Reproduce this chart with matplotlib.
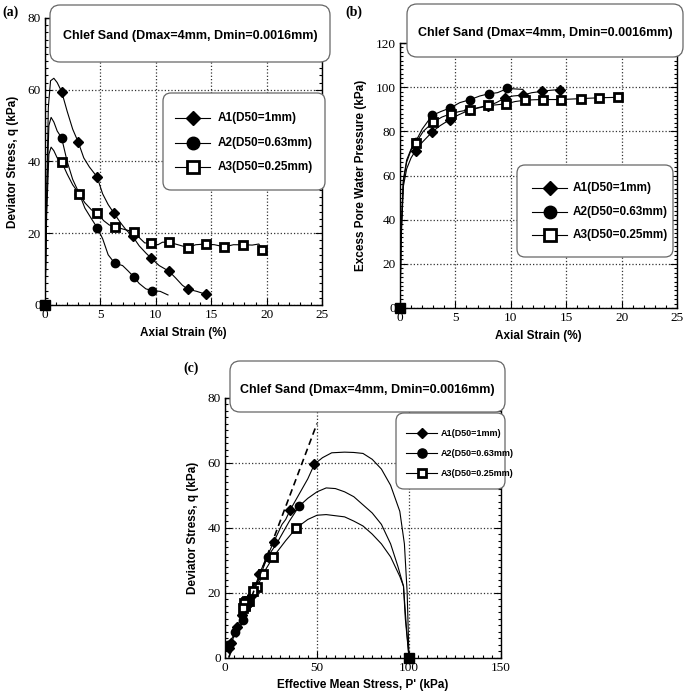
import matplotlib.pyplot as plt
from matplotlib.patches import FancyBboxPatch
from matplotlib.ticker import MultipleLocator
from matplotlib.lines import Line2D

# ---- data ----
labels = ["A1(D50=1mm)", "A2(D50=0.63mm)", "A3(D50=0.25mm)"]

# (a) deviator stress vs axial strain: curve points
a1_x = [0, 0.15, 0.3, 0.5, 0.8, 1.1, 1.5, 2.0, 2.5, 3.0, 3.5, 4.0, 4.7, 5.2, 5.7, 6.2, 6.8, 7.3, 7.9,
        8.5, 9.1, 9.6, 10.3, 11.2, 11.8, 12.4, 12.9, 13.7, 14.5]
a1_q = [0, 30, 55, 62.5, 63.2, 62, 59.5, 54, 49, 45.4, 41, 38.5, 35.7, 31, 28, 25.7, 23, 21, 19.2,
        16.5, 14.5, 13, 11, 9.4, 7.5, 5.5, 4.4, 3.8, 3.0]
a2_x = [0, 0.15, 0.35, 0.55, 0.8, 1.1, 1.5, 2.0, 2.5, 3.1, 3.6, 4.2, 4.7, 5.2, 5.7, 6.3, 7.0, 7.5,
        8.0, 8.5, 9.1, 9.7, 10.4, 11.1]
a2_q = [0, 30, 50, 52.3, 51, 48.5, 46.6, 40, 35, 31, 27, 24, 21.6, 18.5, 14, 11.6, 11, 9.5,
        7.9, 6.0, 4.5, 4.0, 3.8, 2.8]
a3_x = [0, 0.15, 0.35, 0.55, 0.8, 1.1, 1.5, 2.0, 2.5, 3.1, 3.6, 4.2, 4.7, 5.3, 5.8, 6.3, 7.0, 7.5,
        8.0, 8.6, 9.0, 9.6, 10.2, 10.6, 11.2, 12.0, 12.9, 13.6, 14.5, 15.3, 16.2, 17.0, 17.9, 18.7,
        19.3, 19.6]
a3_q = [0, 25, 42, 44, 43, 41, 39.9, 36.5, 33.5, 30.9, 28.5, 26.5, 25.7, 23.5, 22.3, 21.8, 21.2, 20.8,
        20.4, 18.5, 17.3, 17.3, 16.8, 17.5, 17.5, 16.8, 16.0, 16.8, 17.0, 16.8, 16.2, 16.8, 16.8, 16.7,
        17.0, 15.3]
# (a) marker points
a1_mx = [1.5, 3.0, 4.7, 6.2, 7.9, 9.6, 11.2, 12.9, 14.5]
a1_mq = [59.5, 45.4, 35.7, 25.7, 19.2, 13.0, 9.4, 4.4, 3.0]
a2_mx = [1.5, 3.1, 4.7, 6.3, 8.0, 9.7]
a2_mq = [46.6, 31.0, 21.6, 11.6, 7.9, 4.0]
a3_mx = [1.5, 3.1, 4.7, 6.3, 8.0, 9.6, 11.2, 12.9, 14.5, 16.2, 17.9, 19.6]
a3_mq = [39.9, 30.9, 25.7, 21.8, 20.4, 17.3, 17.5, 16.0, 17.0, 16.2, 16.8, 15.3]

# (b) excess pore water pressure vs axial strain
b1_x = [0, 0.1, 0.3, 0.6, 1.0, 1.4, 2.0, 2.9, 3.6, 4.5, 5.3, 6.2, 7.0, 7.9, 8.7, 9.5, 10.2, 11.1,
        11.9, 12.8, 13.6, 14.4]
b1_u = [0, 30, 55, 63, 68, 71.2, 75, 79.7, 82.5, 85.3, 87.5, 89.5, 90.5, 91.5, 93, 95.2, 96, 96.4,
        97.5, 98.1, 98.6, 98.9]
b2_x = [0, 0.1, 0.3, 0.6, 1.0, 1.4, 2.0, 2.9, 3.7, 4.5, 5.4, 6.3, 7.2, 8.0, 8.8, 9.7, 10.4, 11.1]
b2_u = [0, 35, 58, 67, 72, 75.2, 81, 87.2, 89, 90.5, 93, 94.3, 96, 97, 97.5, 99.4, 99.2, 99]
b3_x = [0, 0.1, 0.3, 0.6, 1.0, 1.4, 2.1, 3.0, 3.8, 4.6, 5.4, 6.3, 7.1, 7.9, 8.7, 9.6, 10.4, 11.3,
        12.1, 12.9, 13.7, 14.5, 15.4, 16.3, 17.1, 18.0, 18.8, 19.7]
b3_u = [0, 33, 57, 66, 71.5, 74.5, 80, 84.2, 86.5, 88, 89, 89.8, 90.8, 91.7, 92, 92.5, 93.5, 94.1,
        94.3, 94.4, 94.4, 94.4, 94.6, 94.8, 95, 95.2, 95.3, 95.4]
b1_mx = [1.4, 2.9, 4.5, 6.2, 7.9, 9.5, 11.1, 12.8, 14.4]
b1_mu = [71.2, 79.7, 85.3, 89.5, 91.5, 95.2, 96.4, 98.1, 98.9]
b2_mx = [1.4, 2.9, 4.5, 6.3, 8.0, 9.7]
b2_mu = [75.2, 87.2, 90.5, 94.3, 97.0, 99.4]
b3_mx = [1.4, 3.0, 4.6, 6.3, 7.9, 9.6, 11.3, 12.9, 14.5, 16.3, 18.0, 19.7]
b3_mu = [74.5, 84.2, 88.0, 89.8, 91.7, 92.5, 94.1, 94.4, 94.4, 94.8, 95.2, 95.4]

# (c) stress path q vs p'
c1_p = [100, 99, 97.5, 95, 90, 85, 80, 75, 70, 65, 58, 53, 48.6, 45, 40, 35.4, 33, 31, 26.6, 22,
        18.6, 14.9, 9.1, 6.7, 3.4, 2.1]
c1_q = [0, 20, 35, 45, 53, 58, 61, 62.8, 63.1, 63.2, 63, 61.5, 59.5, 55, 50, 45.4, 42.5, 41, 35.7, 30,
        25.7, 19.2, 13.0, 9.4, 4.4, 3.0]
c2_p = [100, 98, 97, 94, 90, 85, 80, 75, 70, 65, 60, 55, 50, 45, 40.3, 35, 28, 23.1, 16.7, 9.6, 5.6, 1.9]
c2_q = [0, 12, 22, 28, 35, 41, 44.5, 47, 49.5, 51, 52, 52.2, 51, 49, 46.6, 42, 35, 31, 21.6, 11.6, 7.9, 4.0]
c3_p = [100, 98.5, 97, 95, 90, 85, 80, 75, 70, 65, 55, 50, 45, 38.8, 33, 26.1, 20.6, 17.5, 15.1,
        13.3, 11.7, 10.9, 11.3, 10.6, 10.4, 9.7]
c3_q = [0, 10, 22, 25, 31, 35, 38, 40.5, 42, 43.3, 44, 43.8, 42.5, 39.9, 36, 30.9, 25.7, 21.8, 20.4,
        17.3, 17.5, 16.0, 17.0, 16.2, 16.8, 15.3]
c1_mp = [48.6, 35.4, 26.6, 18.6, 14.9, 9.1, 6.7, 3.4, 2.1]
c1_mq = [59.5, 45.4, 35.7, 25.7, 19.2, 13.0, 9.4, 4.4, 3.0]
c2_mp = [40.3, 23.1, 16.7, 9.6, 5.6, 1.9]
c2_mq = [46.6, 31.0, 21.6, 11.6, 7.9, 4.0]
c3_mp = [38.8, 26.1, 20.6, 17.5, 15.1, 13.3, 11.7, 10.9, 11.3, 10.6, 10.4, 9.7]
c3_mq = [39.9, 30.9, 25.7, 21.8, 20.4, 17.3, 17.5, 16.0, 17.0, 16.2, 16.8, 15.3]
cl_p = [2, 50]
cl_q = [0, 72]

title = "Chlef Sand (Dmax=4mm, Dmin=0.0016mm)"

W, H = 685, 695
fig = plt.figure(figsize=(W / 100, H / 100), dpi=100)
serif = "Liberation Serif"
sans = "Liberation Sans"


def px_axes(l, t, r, b):
    return fig.add_axes([l / W, 1 - b / H, (r - l) / W, (b - t) / H])


styles = [dict(marker="D", ms=4.6, mfc="black", mec="black"),
          dict(marker="o", ms=6, mfc="black", mec="black"),
          dict(marker="s", ms=5.8, mfc="white", mec="black", mew=2)]


def setup(ax, xmax, ymax, xmaj, ymaj, xmin, ymin, xlabel, ylabel):
    ax.set_xlim(0, xmax)
    ax.set_ylim(0, ymax)
    ax.xaxis.set_major_locator(MultipleLocator(xmaj))
    ax.yaxis.set_major_locator(MultipleLocator(ymaj))
    ax.xaxis.set_minor_locator(MultipleLocator(xmin))
    ax.yaxis.set_minor_locator(MultipleLocator(ymin))
    ax.tick_params(which="both", direction="in", top=True, right=True, width=0.8)
    ax.tick_params(which="major", length=5, labelsize=9.5, pad=3)
    ax.tick_params(which="minor", length=2.5)
    for lab in ax.get_xticklabels() + ax.get_yticklabels():
        lab.set_family(serif)
    ax.grid(True, which="major", linestyle=":", color="#333333", linewidth=0.9)
    ax.set_xlabel(xlabel, fontsize=8.5, fontweight="bold", family=sans, labelpad=4)
    ax.set_ylabel(ylabel, fontsize=8.5, fontweight="bold", family=sans, labelpad=6)
    for s in ax.spines.values():
        s.set_linewidth(1.0)


def box(l, t, r, b, pad=8):
    p = FancyBboxPatch((l / W, 1 - b / H), (r - l) / W, (b - t) / H,
                       boxstyle=f"round,pad=0,rounding_size={pad / W}",
                       transform=fig.transFigure, facecolor="white",
                       edgecolor="#666666", linewidth=0.9, zorder=5)
    fig.patches.append(p)


def legend_box(l, t, r, b, rows, x0, x1, xt, fs, msc=1.0):
    box(l, t, r, b, pad=8)
    for (y, st, lab) in zip(rows, styles, labels):
        st2 = dict(st)
        st2["ms"] = st["ms"] * msc
        fig.add_artist(Line2D([x0 / W, x1 / W], [1 - y / H, 1 - y / H], color="black", lw=0.8,
                              zorder=6))
        fig.add_artist(Line2D([(x0 + x1) / 2 / W], [1 - y / H], linestyle="none", zorder=7, **st2))
        fig.text(xt / W, 1 - y / H, lab, fontsize=fs, fontweight="bold", family=sans,
                 va="center", ha="left", zorder=7)


def draw_series(ax, series):
    for cx, cy, mx, my, st in series:
        ax.plot(cx, cy, color="black", lw=0.8)
        ax.plot(mx, my, linestyle="none", **st)


# ---- (a) ----
ax = px_axes(45, 18, 322, 305)
setup(ax, 25, 80, 5, 20, 1, 2, "Axial Strain (%)", "Deviator Stress, q (kPa)")
draw_series(ax, [(a1_x, a1_q, a1_mx, a1_mq, styles[0]),
                 (a2_x, a2_q, a2_mx, a2_mq, styles[1]),
                 (a3_x, a3_q, a3_mx, a3_mq, styles[2])])
ax.plot([0], [0], "s", color="black", ms=6.5, clip_on=False, zorder=4)
box(50, 5, 330, 62, pad=10)
fig.text(190 / W, 1 - 36 / H, title, fontsize=9, fontweight="bold", family=sans,
         ha="center", va="center", zorder=6)
legend_box(163, 93, 325, 190, [118, 143, 167], 175, 210, 218, 8.5, 1.5)
fig.text(2 / W, 1 - 12 / H, "(a)", fontsize=10, fontweight="bold", family=serif, va="center")

# ---- (b) ----
ax = px_axes(400, 43, 677, 308)
setup(ax, 25, 120, 5, 20, 1, 2, "Axial Strain (%)", "Excess Pore Water Pressure (kPa)")
draw_series(ax, [(b1_x, b1_u, b1_mx, b1_mu, styles[0]),
                 (b2_x, b2_u, b2_mx, b2_mu, styles[1]),
                 (b3_x, b3_u, b3_mx, b3_mu, styles[2])])
ax.plot([0], [0], "s", color="black", ms=6.5, clip_on=False, zorder=4)
box(407, 4, 683, 57, pad=10)
fig.text(545 / W, 1 - 33 / H, title, fontsize=9, fontweight="bold", family=sans,
         ha="center", va="center", zorder=6)
legend_box(517, 165, 673, 257, [188, 212, 235], 532, 567, 573, 8.5, 1.5)
fig.text(345 / W, 1 - 12 / H, "(b)", fontsize=10, fontweight="bold", family=serif, va="center")

# ---- (c) ----
ax = px_axes(225, 397.5, 501, 657.7)
setup(ax, 150, 80, 50, 20, 5, 2, "Effective Mean Stress, P' (kPa)", "Deviator Stress, q (kPa)")
draw_series(ax, [(c1_p, c1_q, c1_mp, c1_mq, styles[0]),
                 (c2_p, c2_q, c2_mp, c2_mq, styles[1]),
                 (c3_p, c3_q, c3_mp, c3_mq, styles[2])])
ax.plot(cl_p, cl_q, color="black", lw=1.2, linestyle=(0, (4, 2.5)))
ax.plot([100], [0], "s", color="black", ms=6.5, clip_on=False, zorder=4)
box(230, 361, 505, 412, pad=10)
fig.text(367 / W, 1 - 390 / H, title, fontsize=9, fontweight="bold", family=sans,
         ha="center", va="center", zorder=6)
legend_box(396, 413, 505, 489, [433, 453, 473], 406, 437, 441, 6.5, 1.1)
fig.text(183 / W, 1 - 368 / H, "(c)", fontsize=10, fontweight="bold", family=serif, va="center")

fig.savefig("out.png", dpi=100)
